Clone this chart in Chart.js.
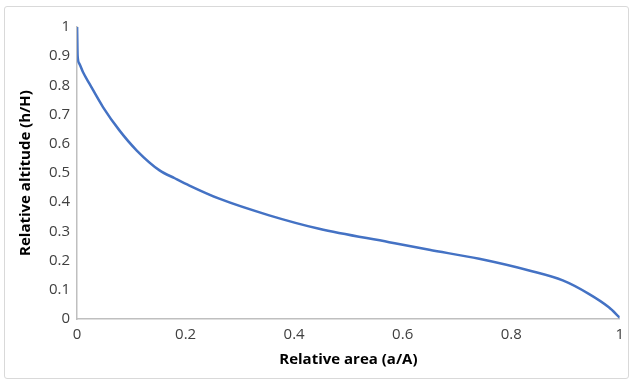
<!DOCTYPE html>
<html>
<head>
<meta charset="utf-8">
<script src="https://cdn.jsdelivr.net/npm/chart.js@4"></script>
<style>
  html, body { margin: 0; padding: 0; background: #fff; }
  #frame {
    position: absolute; left: 4px; top: 6px; width: 625px; height: 373px;
    border: 1px solid #d9d9d9; border-radius: 3px; box-sizing: border-box;
  }
  #wrap { position: absolute; left: 0; top: 0; width: 631px; height: 381px; }
</style>
</head>
<body>
<div id="frame"></div>
<div id="wrap"><canvas id="hypsoChart"></canvas></div>
<script>
// Hypsometric curve: relative area vs relative altitude
const relArea = [0, 0.001, 0.004, 0.011, 0.023, 0.048, 0.078, 0.11, 0.152, 0.18, 0.207, 0.262, 0.354, 0.446, 0.575, 0.649, 0.741, 0.833, 0.895, 0.943, 0.98, 1.0]
const relAltitude = [1, 0.9, 0.875, 0.845, 0.805, 0.725, 0.646, 0.577, 0.509, 0.482, 0.457, 0.412, 0.355, 0.309, 0.263, 0.237, 0.206, 0.166, 0.132, 0.086, 0.04, 0.005]

const xTitle = "Relative area (a/A)"
const yTitle = "Relative altitude (h/H)"

const points = relArea.map((a, i) => ({ x: a, y: relAltitude[i] }))

const tickFont = { family: "'Open Sans', sans-serif", size: 15 }
const titleFont = { family: "'Open Sans', sans-serif", size: 15, weight: "bold" }

// Excel-style labels: 0, 0.1 ... 1
const fmt = (v) => String(Math.round(v * 10) / 10)

new Chart(document.getElementById("hypsoChart"), {
  type: "scatter",
  data: {
    datasets: [
      {
        data: points,
        showLine: true,
        borderColor: "#4472C4",
        borderWidth: 2.5,
        pointRadius: 0,
        cubicInterpolationMode: "monotone",
      },
    ],
  },
  options: {
    responsive: true,
    maintainAspectRatio: false,
    animation: false,
    layout: { padding: { left: 13, right: 6, top: 27, bottom: 8 } },
    plugins: {
      legend: { display: false },
      tooltip: { enabled: false },
    },
    scales: {
      x: {
        type: "linear",
        min: 0,
        max: 1,
        ticks: { stepSize: 0.2, color: "#404040", font: tickFont, padding: 7, callback: fmt },
        grid: { display: false, drawTicks: false },
        border: { display: true, color: "#bfbfbf", width: 1.5 },
        title: { display: true, text: xTitle, color: "#000", font: titleFont, padding: { top: 0 } },
      },
      y: {
        min: 0,
        max: 1,
        ticks: { stepSize: 0.1, color: "#404040", font: tickFont, padding: 7, callback: fmt },
        grid: { display: false, drawTicks: false },
        border: { display: true, color: "#bfbfbf", width: 1.5 },
        title: { display: true, text: yTitle, color: "#000", font: titleFont, padding: { bottom: 7 } },
      },
    },
  },
})
</script>
</body>
</html>
